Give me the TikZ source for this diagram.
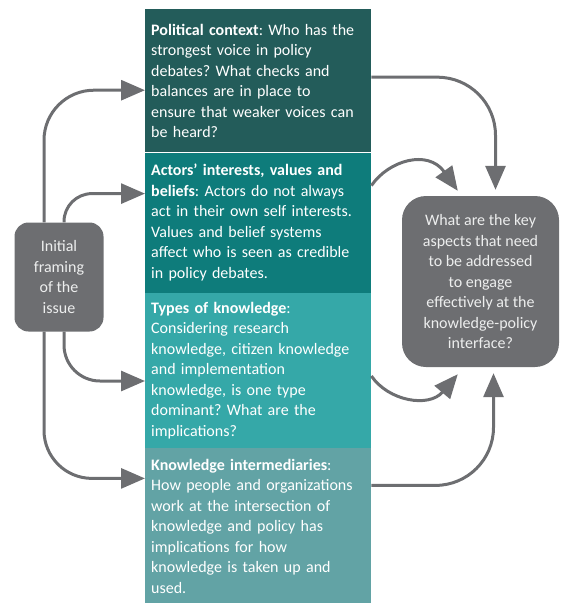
\documentclass[tikz,border=0pt]{standalone}
\usepackage{fontspec}
\setmainfont{Carlito}
\frenchspacing
\usetikzlibrary{arrows.meta,positioning}

\definecolor{polcol}{RGB}{35,92,90}
\definecolor{actcol}{RGB}{14,124,123}
\definecolor{typcol}{RGB}{53,168,168}
\definecolor{kincol}{RGB}{98,163,165}
\definecolor{greybox}{RGB}{109,110,113}

\begin{document}
\begin{tikzpicture}[
    x=1pt,y=-1pt,
    font=\fontsize{16}{20.5}\selectfont,>={Triangle[length=24pt,width=20pt]},
    topic/.style={inner xsep=6pt,inner ysep=0pt,text width=214pt,align=left,text=white},
    question/.style={fill=greybox,inner sep=0pt,align=center,text=white!88!greybox},
    flow/.style={->,draw=greybox,line width=3pt},
    ]
    \useasboundingbox (0,0) rectangle (566,603);

    \node[topic,fill=polcol,minimum height=143pt,anchor=north west] (pol) at (145,9)
        {\textbf{Political context}: Who has the\\ strongest voice in policy\\ debates? What checks and\\ balances are in place to\\ ensure that weaker voices can\\ be heard?};
    \node[topic,fill=actcol,minimum height=140pt,below=0pt of pol] (act)
        {\textbf{Actors’ interests, values and}\\ \textbf{beliefs}: Actors do not always\\ act in their own self interests.\\ Values and belief systems\\ affect who is seen as credible\\ in policy debates.};
    \node[topic,fill=typcol,minimum height=155pt,below=0pt of act] (typ)
        {\textbf{Types of knowledge}:\\ Considering research\\ knowledge, citizen knowledge\\ and implementation\\ knowledge, is one type\\ dominant? What are the\\ implications?};
    \node[topic,fill=kincol,minimum height=156pt,below=0pt of typ] (kin)
        {\textbf{Knowledge intermediaries}:\\ How people and organizations\\ work at the intersection of\\ knowledge and policy has\\ implications for how\\ knowledge is taken up and\\ used.};

    \node[question,rounded corners=14pt,minimum width=89pt,minimum height=109pt] (frame) at (59,277)
        {Initial\\ framing\\ of the\\ issue};
    \node[question,rounded corners=24pt,minimum width=157pt,minimum height=171pt] (key) at (480.5,281.5)
        {What are the key\\ aspects that need\\ to be addressed\\ to engage\\ effectively at the\\ knowledge-policy\\ interface?};

    % from the framing box into each topic
    \draw[flow,rounded corners=50pt] ([xshift=-15pt]frame.north) |- ([yshift=-9.5pt]pol.west);
    \draw[flow,rounded corners=28pt] ([xshift=5pt]frame.north) |- ([yshift=29pt]act.west);
    \draw[flow,rounded corners=36pt] ([xshift=5pt]frame.south) |- ([yshift=-10.5pt]typ.west);
    \draw[flow,rounded corners=48pt] ([xshift=-15pt]frame.south) |- ([yshift=48pt]kin.west);

    % from each topic to the key question
    \draw[flow,rounded corners=58pt,shorten >=6pt] ([yshift=3.5pt]pol.east) -| ([xshift=15pt]key.north);
    \draw[flow] ([yshift=37pt]act.east) .. controls +(17,-25) and +(-30,-42) .. ([shift={(56,-5)}]key.north west);
    \draw[flow] ([yshift=-5.5pt]typ.east) .. controls +(17,25) and +(-29,34) .. ([shift={(56,7)}]key.south west);
    \draw[flow,rounded corners=58pt,shorten >=6pt] ([yshift=41pt]kin.east) -| ([xshift=13pt]key.south);
\end{tikzpicture}
\end{document}
